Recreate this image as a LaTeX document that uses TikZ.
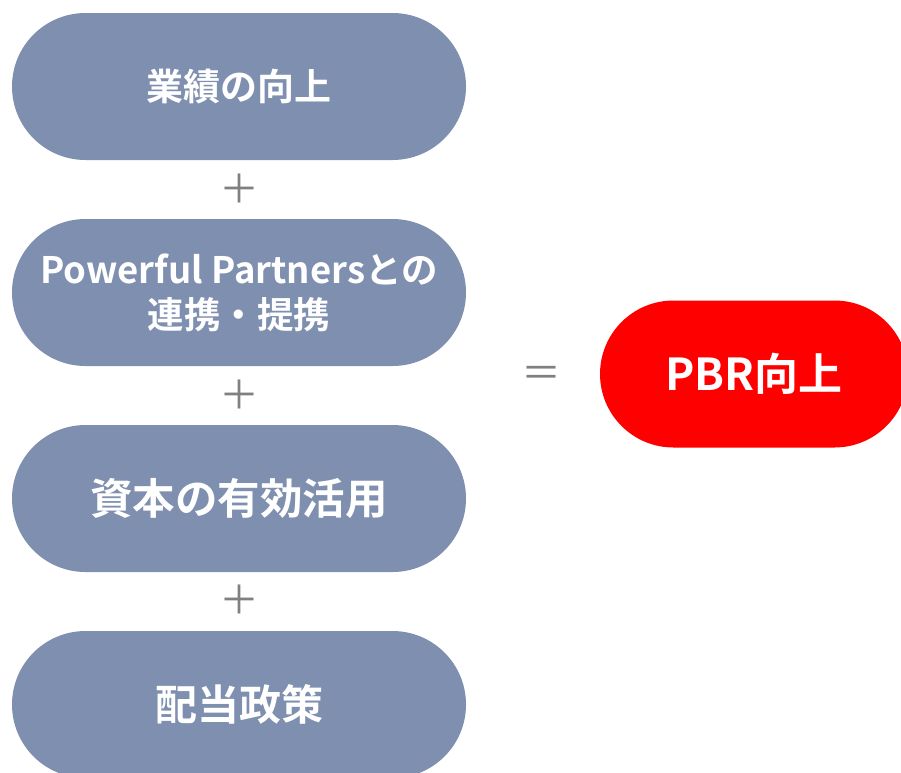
\documentclass[tikz,border=0pt]{standalone}
\usepackage{fontspec}
\setmainfont{Noto Sans CJK JP}
\newfontfamily\jpbold{Noto Sans CJK JP Bold}
\usetikzlibrary{shapes.misc}

\definecolor{pillblue}{RGB}{127,143,175}
\definecolor{plusgray}{RGB}{128,128,128}
\tikzset{
  pill/.style={rounded rectangle,fill=pillblue,text=white,minimum width=454pt,
    minimum height=147pt,inner sep=0pt,align=center},
  goal/.style={pill,fill=red,minimum width=308pt},
  opsign/.style={text=plusgray,inner sep=0pt,font=\fontsize{40}{40}\selectfont}
}

\begin{document}
\begin{tikzpicture}[x=1pt,y=-1pt]
  \useasboundingbox (0,0) rectangle (901,772);
  \clip (0,0) rectangle (901,772);
  \node[pill,font=\jpbold\fontsize{37}{37}\selectfont] (gyoseki) at (239,86.5) {業績の向上};
  \node[opsign] (plusa) at (239,189) {＋};
  \node[pill,font=\jpbold\fontsize{36.5}{45}\selectfont] (partner) at (239,292.5) {Powerful Partnersとの\\連携・提携};
  \node[opsign] (plusb) at (239,395) {＋};
  \node[pill,font=\jpbold\fontsize{42.5}{42.5}\selectfont] (shihon) at (239,498.5) {資本の有効活用};
  \node[opsign] (plusc) at (239,600) {＋};
  \node[pill,font=\jpbold\fontsize{42}{42}\selectfont] (haito) at (239,704.5) {配当政策};
  \node[opsign] (equal) at (541,377) {＝};
  \node[goal,font=\jpbold\fontsize{44}{44}\selectfont] (pbr) at (754,374) {PBR向上};
\end{tikzpicture}
\end{document}
